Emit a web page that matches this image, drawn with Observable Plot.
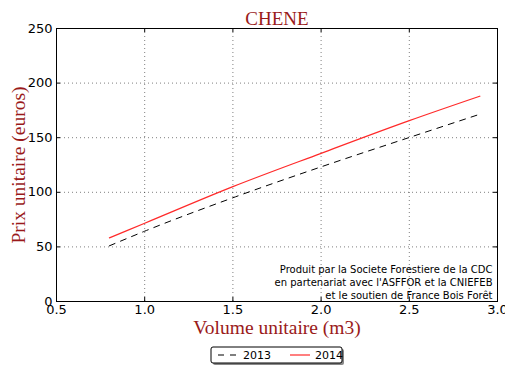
<!DOCTYPE html>
<html>
<head>
<meta charset="utf-8">
<script src="https://cdn.jsdelivr.net/npm/d3@7"></script>
<script src="https://cdn.jsdelivr.net/npm/@observablehq/plot@0.6"></script>
<style>
  html, body { margin: 0; padding: 0; background: #fff; }
  #chart { width: 505px; height: 365px; }
</style>
</head>
<body>
<div id="chart"></div>
<script>
const volumes = [0.8, 1.0, 1.5, 2.0, 2.5, 2.9];
const prix2013 = [51, 64.4, 95, 123.3, 150.2, 171.5];
const prix2014 = [58.3, 71.7, 105.2, 135.7, 165.6, 188];
const xTicks = [0.5, 1.0, 1.5, 2.0, 2.5, 3.0];
const yTicks = [0, 50, 100, 150, 200, 250];
const seriesNames = ["2013", "2014"];
const titleText = "CHENE";
const xLabel = "Volume unitaire (m3)";
const yLabel = "Prix unitaire (euros)";
const creditLines = ["Produit par la Societe Forestiere de la CDC", "en partenariat avec l'ASFFOR et la CNIEFEB", "et le soutien de France Bois Forêt"];

const d2013 = volumes.map((v, i) => ({v, p: prix2013[i]}));
const d2014 = volumes.map((v, i) => ({v, p: prix2014[i]}));

const titleColor = "#9a1a1a";
const serif = "'Liberation Serif', 'Times New Roman', serif";
const sans = "'DejaVu Sans', sans-serif";

const chart = Plot.plot({
  width: 505,
  height: 365,
  marginLeft: 56,
  marginRight: 8,
  marginTop: 28,
  marginBottom: 64,
  style: {fontFamily: sans, fontSize: "13px", color: "#000", background: "#fff"},
  x: {domain: [0.5, 3.0]},
  y: {domain: [0, 250]},
  marks: [
    Plot.gridX(xTicks, {stroke: "#000", strokeOpacity: 0.5, strokeDasharray: "1,3"}),
    Plot.gridY(yTicks, {stroke: "#000", strokeOpacity: 0.5, strokeDasharray: "1,3"}),
    Plot.axisX(xTicks, {tickSize: 0, tickPadding: 3, tickFormat: d3.format(".1f"), label: null, fontSize: 13, fill: "#000"}),
    Plot.axisY(yTicks, {tickSize: 0, tickPadding: 4, tickFormat: d => String(d), label: null, fontSize: 13, fill: "#000"}),
    Plot.tickX(xTicks, {x: d => d, insetTop: 269, stroke: "#000"}),
    Plot.tickX(xTicks, {x: d => d, insetBottom: 269, stroke: "#000"}),
    Plot.tickY(yTicks, {y: d => d, insetRight: 437, stroke: "#000"}),
    Plot.tickY(yTicks, {y: d => d, insetLeft: 437, stroke: "#000"}),
    Plot.line(d2013, {x: "v", y: "p", stroke: "#000", strokeWidth: 1, strokeDasharray: "6,6", curve: "monotone-x"}),
    Plot.line(d2014, {x: "v", y: "p", stroke: "#ff2a2a", strokeWidth: 1.2, curve: "monotone-x"}),
    Plot.frame({stroke: "#000", strokeWidth: 1}),
    Plot.text([titleText], {frameAnchor: "top", dy: -10, lineAnchor: "middle", textAnchor: "middle", fill: titleColor, fontFamily: serif, fontSize: 19}),
    Plot.text([xLabel], {frameAnchor: "bottom", dy: 26, lineAnchor: "middle", textAnchor: "middle", fill: titleColor, fontFamily: serif, fontSize: 19.5}),
    Plot.text([yLabel], {frameAnchor: "left", dx: -38, rotate: -90, lineAnchor: "middle", textAnchor: "middle", fill: titleColor, fontFamily: serif, fontSize: 19.5}),
    Plot.text([creditLines.join("\n")], {frameAnchor: "bottom-right", dx: -5, dy: -3, lineAnchor: "bottom", textAnchor: "end", fill: "#000", fontFamily: sans, fontSize: 10, lineHeight: 1.3})
  ]
});

document.getElementById("chart").appendChild(chart);

// Legend below the plot (inside SVG bottom margin)
const svg = d3.select(chart);
const lg = svg.append("g").attr("transform", "translate(211,347)");
lg.append("rect").attr("x", 2).attr("y", 2).attr("width", 131).attr("height", 16).attr("fill", "#888").attr("rx", 2);
lg.append("rect").attr("x", 0).attr("y", 0).attr("width", 131).attr("height", 16).attr("fill", "#fff").attr("stroke", "#000").attr("rx", 2);
const items = [
  {name: seriesNames[0], stroke: "#000", dash: "6,6", x: 7},
  {name: seriesNames[1], stroke: "#ff2a2a", dash: null, x: 79}
];
items.forEach(it => {
  lg.append("line").attr("x1", it.x).attr("x2", it.x + 20).attr("y1", 8).attr("y2", 8)
    .attr("stroke", it.stroke).attr("stroke-width", 1.2).attr("stroke-dasharray", it.dash);
  lg.append("text").attr("x", it.x + 25).attr("y", 8).attr("dy", "0.35em")
    .attr("text-anchor", "start")
    .attr("font-family", sans).attr("font-size", 11).attr("fill", "#000").text(it.name);
});
</script>
</body>
</html>
